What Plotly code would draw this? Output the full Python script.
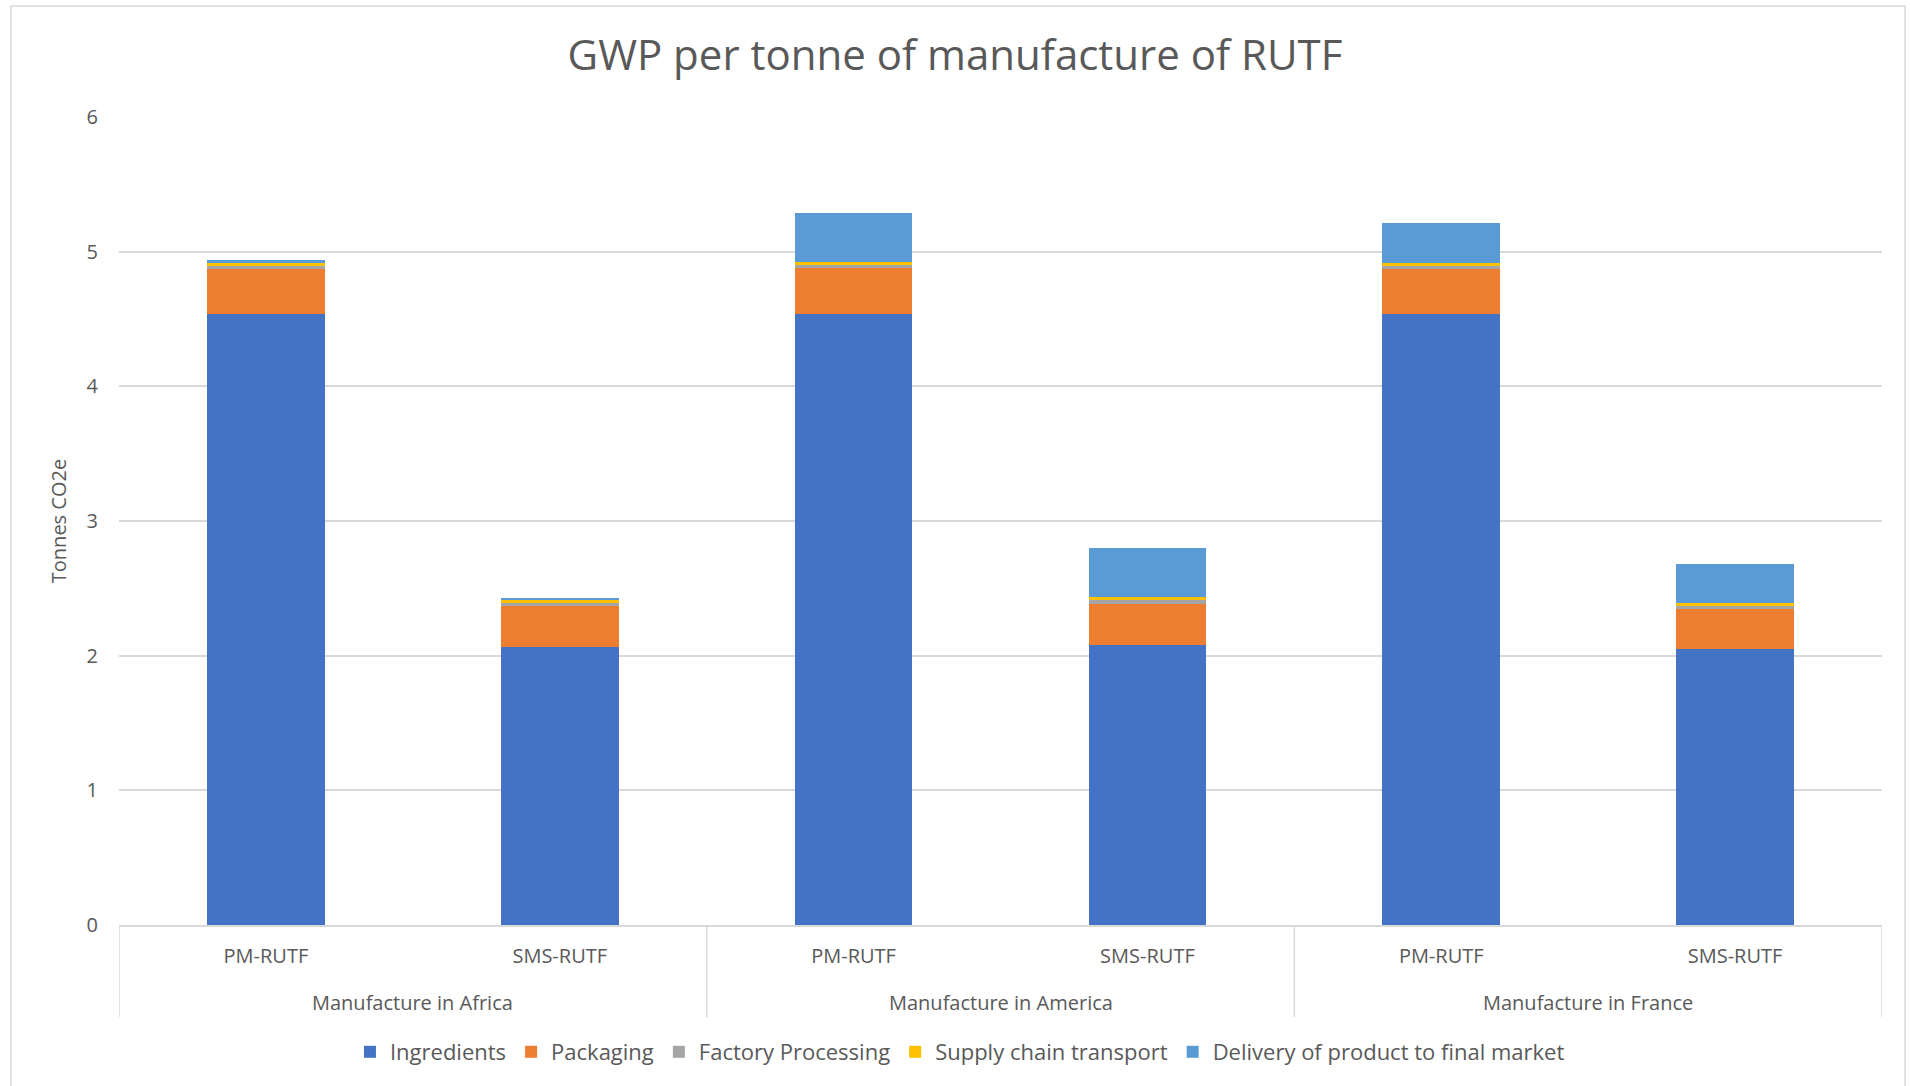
import plotly.graph_objects as go

groups = ["Manufacture in Africa", "Manufacture in America", "Manufacture in France"]
products = ["PM-RUTF", "SMS-RUTF", "PM-RUTF", "SMS-RUTF", "PM-RUTF", "SMS-RUTF"]

ingredients = [4.54, 2.065, 4.54, 2.08, 4.54, 2.05]
packaging = [0.33, 0.305, 0.336, 0.307, 0.333, 0.30]
factory = [0.023, 0.02, 0.024, 0.023, 0.02, 0.017]
supply = [0.022, 0.02, 0.025, 0.024, 0.022, 0.023]
delivery = [0.02, 0.02, 0.365, 0.366, 0.295, 0.29]

series = [
    ("Ingredients", ingredients, "#4472C4"),
    ("Packaging", packaging, "#ED7D31"),
    ("Factory Processing", factory, "#A5A5A5"),
    ("Supply chain transport", supply, "#FFC000"),
    ("Delivery of product to final market", delivery, "#5B9BD5"),
]

FONT = "Open Sans"
TXT = "#595959"
GRID = "#D9D9D9"

xpos = list(range(len(products)))
per_group = len(products) // len(groups)

fig = go.Figure()
for name, vals, col in series:
    fig.add_trace(go.Bar(
        x=xpos, y=vals, name=name,
        marker=dict(color=col, line=dict(width=0)),
    ))

W, H = 1910, 1086
L, R, T, B = 119, 28, 117, 161
pw, ph = W - L - R, H - T - B

def px(x):
    return (x - L) / pw

def py(y):
    return (H - B - y) / ph

annotations = []
shapes = []
for gi, g in enumerate(groups):
    center = gi * per_group + (per_group - 1) / 2
    annotations.append(dict(text=g, x=center, xref="x", y=py(1002), yref="paper",
                            xanchor="center", yanchor="middle", showarrow=False,
                            font=dict(size=20, color=TXT, family=FONT)))
for k in range(len(groups) + 1):
    xd = k * per_group - 0.5
    shapes.append(dict(type="line", xref="x", yref="paper", x0=xd, x1=xd,
                       y0=0, y1=py(1017), line=dict(color=GRID, width=1.5)))
shapes.append(dict(type="rect", xref="paper", yref="paper",
                   x0=px(11), x1=px(1905), y0=py(1090), y1=py(6),
                   line=dict(color=GRID, width=1.5), fillcolor="rgba(0,0,0,0)", layer="below"))

fig.update_layout(
    width=W, height=H,
    barmode="stack", bargap=0.6,
    margin=dict(l=L, r=R, t=T, b=B),
    paper_bgcolor="white", plot_bgcolor="white",
    font=dict(family=FONT, color=TXT, size=20),
    title=dict(text="GWP per tonne of manufacture of RUTF", x=0.5, xanchor="center",
               y=1 - 55 / H, yanchor="middle", font=dict(size=42, color=TXT, family=FONT)),
    legend=dict(orientation="h", x=0.477, xanchor="center", y=py(1052), yanchor="middle",
                font=dict(size=22, color=TXT), traceorder="normal", itemwidth=30,
                bgcolor="rgba(0,0,0,0)"),
    xaxis=dict(range=[-0.5, len(products) - 0.5], tickmode="array", tickvals=xpos,
               ticktext=products, showline=True, linecolor=GRID, linewidth=1.5,
               showgrid=False, zeroline=False, ticks="", ticklabelstandoff=12,
               tickfont=dict(size=20, color=TXT)),
    yaxis=dict(range=[0, 6], dtick=1, showgrid=True, gridcolor=GRID, gridwidth=1.5,
               zeroline=False, showline=False, ticks="", ticklabelstandoff=20,
               tickfont=dict(size=20, color=TXT),
               title=dict(text="Tonnes CO2e", font=dict(size=20, color=TXT), standoff=14)),
    annotations=annotations,
    shapes=shapes,
)

fig.write_html("out.html")
